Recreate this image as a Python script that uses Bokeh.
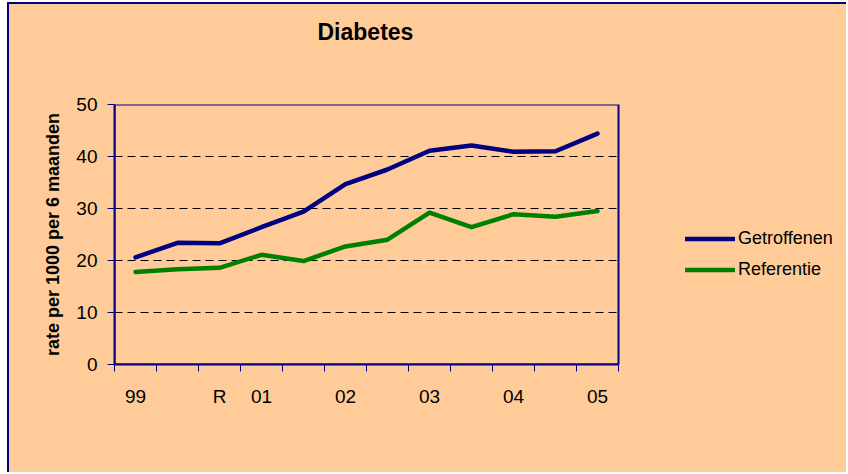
from bokeh.plotting import figure
from bokeh.models import Range1d, FixedTicker, Legend, LegendItem
from bokeh.embed import file_html
from bokeh.resources import INLINE

# data
periods = ["99", "", "R", "01", "", "02", "", "03", "", "04", "", "05"]
getroffenen = [20.6, 23.4, 23.3, 26.4, 29.4, 34.7, 37.5, 41.1, 42.1, 40.9, 41.0, 44.4]
referentie = [17.8, 18.3, 18.6, 21.1, 19.9, 22.7, 24.0, 29.2, 26.4, 28.9, 28.4, 29.5]
y_ticks = [0, 10, 20, 30, 40, 50]
grid_ticks = [10, 20, 30, 40]
Y_MAX = 50

BG = "#FFCC99"
NAVY = "#000080"
GREEN = "#008000"
FONT = "Liberation Sans"

N = len(periods)
x = [i + 0.5 for i in range(N)]

# layout: the data box is 504 px wide; the frame continues to the right
# so that the legend can sit beside the box
W, H = 839, 470
LEFT, TOP, BOTTOM = 105, 100, 110
BOX_W = 504
frame_w = W - LEFT
x_end = N * frame_w / BOX_W

p = figure(width=W, height=H, output_backend="svg", toolbar_location=None,
           x_range=Range1d(0, x_end), y_range=Range1d(0, Y_MAX),
           min_border_left=LEFT, min_border_right=0, min_border_top=TOP,
           min_border_bottom=BOTTOM)
p.styles = {"margin-left": "7px", "margin-top": "2px", "background-color": BG,
            "border-left": "2px solid #000080", "border-top": "2px solid #000080"}
p.background_fill_color = BG
p.border_fill_color = BG
p.outline_line_color = None

# title (extra blank lines lift it away from the frame)
p.title.text = "Diabetes\n \n "
p.title.align = "left"
p.title.offset = 203
p.title.text_font = FONT
p.title.text_font_size = "23px"
p.title.text_font_style = "bold"
p.title.text_color = "black"
p.title.text_line_height = 1.05
p.title.standoff = 10

# grid lines restricted to the data box
p.xgrid.visible = False
p.ygrid.visible = False
p.segment(x0=0, x1=N, y0=grid_ticks, y1=grid_ticks, line_color="black",
          line_width=1, line_dash="8 5")

# data box border
p.quad(left=0, right=N, bottom=0, top=Y_MAX, fill_alpha=0,
       line_color=NAVY, line_width=2)

r1 = p.line(x, getroffenen, line_color=NAVY, line_width=4.5, line_cap="round", line_join="round")
r2 = p.line(x, referentie, line_color=GREEN, line_width=4.5, line_cap="round", line_join="round")

# x axis
labeled = [x[i] for i, s in enumerate(periods) if s]
p.xaxis.bounds = (0, N)
p.xaxis.ticker = FixedTicker(ticks=labeled, minor_ticks=list(range(N + 1)))
p.xaxis.major_label_overrides = {x[i]: s for i, s in enumerate(periods) if s}
p.xaxis.major_tick_out = 0
p.xaxis.major_tick_in = 0
p.xaxis.minor_tick_out = 7
p.xaxis.minor_tick_in = 0
p.xaxis.minor_tick_line_color = NAVY
p.xaxis.axis_line_color = NAVY
p.xaxis.axis_line_width = 2
p.xaxis.major_label_standoff = 14
p.xaxis.major_label_text_font = FONT
p.xaxis.major_label_text_font_size = "19px"
p.xaxis.major_label_text_color = "black"

# y axis
p.yaxis.ticker = FixedTicker(ticks=y_ticks)
p.yaxis.major_tick_out = 7
p.yaxis.major_tick_in = 0
p.yaxis.major_tick_line_color = NAVY
p.yaxis.minor_tick_line_color = None
p.yaxis.axis_line_color = NAVY
p.yaxis.axis_line_width = 2
p.yaxis.major_label_standoff = 10
p.yaxis.major_label_text_font = FONT
p.yaxis.major_label_text_font_size = "19px"
p.yaxis.major_label_text_color = "black"
p.yaxis.axis_label = "rate per 1000 per 6 maanden"
p.yaxis.axis_label_text_font = FONT
p.yaxis.axis_label_text_font_size = "18px"
p.yaxis.axis_label_text_font_style = "bold"
p.yaxis.axis_label_text_color = "black"
p.yaxis.axis_label_standoff = 10

legend = Legend(items=[LegendItem(label="Getroffenen", renderers=[r1]),
                       LegendItem(label="Referentie", renderers=[r2])],
                location=(571, 84))
legend.label_text_font = FONT
legend.label_text_font_size = "18px"
legend.label_text_color = "black"
legend.glyph_width = 50
legend.glyph_height = 21
legend.label_height = 21
legend.label_standoff = 3
legend.spacing = 10
legend.padding = 0
legend.margin = 0
legend.border_line_color = None
legend.background_fill_alpha = 0
p.add_layout(legend)

open("out.html", "w").write(file_html(p, INLINE))
